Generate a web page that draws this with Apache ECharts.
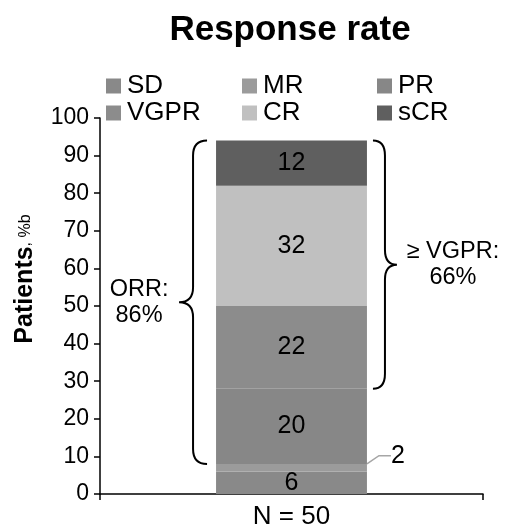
<!DOCTYPE html>
<html>
<head>
<meta charset="utf-8">
<script src="https://cdn.jsdelivr.net/npm/echarts@6/dist/echarts.min.js"></script>
<style>
  html, body { margin: 0; padding: 0; background: #ffffff; }
  #chart { width: 508px; height: 530px; }
</style>
</head>
<body>
<div id="chart"></div>
<script>
// Response categories and their share of patients (%), stacked bottom to top
const categories = ['N = 50'];
const sdValues = [6];
const mrValues = [2];
const prValues = [20];
const vgprValues = [22];
const crValues = [32];
const scrValues = [12];

// Y axis ticks: 0 .. 100 by 10
const yMin = 0;
const yMax = 100;
const yStep = 10;

// Bracketed summaries: [category index, from %, to %, side (-1 left, 1 right)]
const orrBrace = [0, 8, 94, -1];
const vgprBrace = [0, 28, 94, 1];
const braceTexts = ['ORR:\n86%', '≥ VGPR:\n66%'];

const FONT = '"Liberation Sans", Arial, sans-serif';
const BAR_WIDTH_RATIO = 0.394;

const colors = {
  SD: '#898989',
  MR: '#9b9b9b',
  PR: '#878787',
  VGPR: '#8c8c8c',
  CR: '#c0c0c0',
  sCR: '#5f5f5f'
};

const segLabel = {
  show: true,
  position: 'inside',
  color: '#000',
  fontSize: 25,
  fontFamily: FONT
};

function stackSeries(name, values, extra) {
  return Object.assign({
    name: name,
    type: 'bar',
    stack: 'response',
    barWidth: (BAR_WIDTH_RATIO * 100) + '%',
    data: values,
    itemStyle: { color: colors[name] },
    label: segLabel,
    emphasis: { disabled: true }
  }, extra || {});
}

// Curly brace between yTop and yBot; tips on the bar side, point outward
function bracePath(tipX, pointX, yTop, yBot) {
  const stemX = (tipX + pointX) / 2;
  const yMid = (yTop + yBot) / 2;
  const r = Math.min(15, (yBot - yTop) / 4);
  return [
    'M', tipX, yTop,
    'Q', stemX, yTop, stemX, yTop + r,
    'L', stemX, yMid - r,
    'Q', stemX, yMid, pointX, yMid,
    'Q', stemX, yMid, stemX, yMid + r,
    'L', stemX, yBot - r,
    'Q', stemX, yBot, tipX, yBot
  ].join(' ');
}

function renderBrace(params, api) {
  const cat = api.value(0);
  const side = api.value(3);
  const top = api.coord([cat, api.value(2)]);
  const bot = api.coord([cat, api.value(1)]);
  const band = api.size([1, 0])[0];
  const barHalf = band * BAR_WIDTH_RATIO / 2;
  const gap = side < 0 ? 9 : 6;
  const depth = side < 0 ? 28 : 24;
  const tipX = top[0] + side * (barHalf + gap);
  const pointX = tipX + side * depth;
  const yMid = (top[1] + bot[1]) / 2;
  const textX = side < 0 ? pointX - 40 : pointX + 56;
  return {
    type: 'group',
    children: [
      {
        type: 'path',
        shape: { pathData: bracePath(tipX, pointX, top[1], bot[1]) },
        style: { fill: 'none', stroke: '#000', lineWidth: 2 }
      },
      {
        type: 'text',
        x: textX,
        y: yMid,
        style: {
          text: braceTexts[params.dataIndex],
          fill: '#000',
          font: '23.5px ' + FONT,
          align: 'center',
          verticalAlign: 'middle',
          lineHeight: 26
        }
      }
    ]
  };
}

const legendBase = {
  orient: 'vertical',
  top: 73,
  padding: 0,
  itemWidth: 15,
  itemHeight: 15,
  itemGap: 1,
  icon: 'rect',
  selectedMode: false,
  textStyle: { fontSize: 26, fontFamily: FONT, color: '#000', padding: [0, 0, 0, 1] }
};

const chart = echarts.init(document.getElementById('chart'), null, { renderer: 'canvas' });

chart.setOption({
  animation: false,
  backgroundColor: '#ffffff',
  title: {
    text: 'Response rate',
    left: 285,
    textAlign: 'center',
    top: 8,
    textStyle: { fontSize: 35, fontWeight: 'bold', fontFamily: FONT, color: '#000' }
  },
  legend: [
    Object.assign({ left: 106, data: ['SD', 'VGPR'] }, legendBase),
    Object.assign({ left: 242, data: ['MR', 'CR'] }, legendBase),
    Object.assign({ left: 377, data: ['PR', 'sCR'] }, legendBase)
  ],
  grid: { left: 100, right: 25, top: 118, bottom: 36, containLabel: false },
  xAxis: {
    type: 'category',
    data: categories,
    axisLine: { lineStyle: { color: '#000', width: 1.5 } },
    axisTick: { show: true, length: 6, lineStyle: { color: '#000', width: 1.5 } },
    axisLabel: { color: '#000', fontSize: 26, fontFamily: FONT, margin: 10 }
  },
  yAxis: {
    type: 'value',
    min: yMin,
    max: yMax,
    interval: yStep,
    splitLine: { show: false },
    axisLine: { show: true, lineStyle: { color: '#000', width: 1.5 } },
    axisTick: { show: true, length: 6, lineStyle: { color: '#000', width: 1.5 } },
    axisLabel: { color: '#000', fontSize: 23, fontFamily: FONT, margin: 11 },
    name: '{b|Patients}{s|, %b}',
    nameLocation: 'middle',
    nameRotate: 90,
    nameGap: 62,
    nameTextStyle: {
      padding: [0, 0, 0, 54],
      rich: {
        b: { fontSize: 25, fontWeight: 'bold', fontFamily: FONT, color: '#000' },
        s: { fontSize: 16, fontFamily: FONT, color: '#000' }
      }
    }
  },
  series: [
    stackSeries('SD', sdValues),
    stackSeries('MR', mrValues, {
      label: {
        show: true,
        position: 'right',
        distance: 4,
        color: '#000',
        fontSize: 25,
        fontFamily: FONT
      },
      labelLayout: { dx: 20, dy: -12 },
      labelLine: { show: true, length2: 12, lineStyle: { color: '#a6a6a6', width: 1.5 } }
    }),
    stackSeries('PR', prValues),
    stackSeries('VGPR', vgprValues),
    stackSeries('CR', crValues),
    stackSeries('sCR', scrValues),
    {
      type: 'custom',
      name: 'braces',
      renderItem: renderBrace,
      data: [orrBrace, vgprBrace],
      encode: { x: 0, y: [1, 2] },
      z: 5,
      silent: true
    }
  ]
});
</script>
</body>
</html>
